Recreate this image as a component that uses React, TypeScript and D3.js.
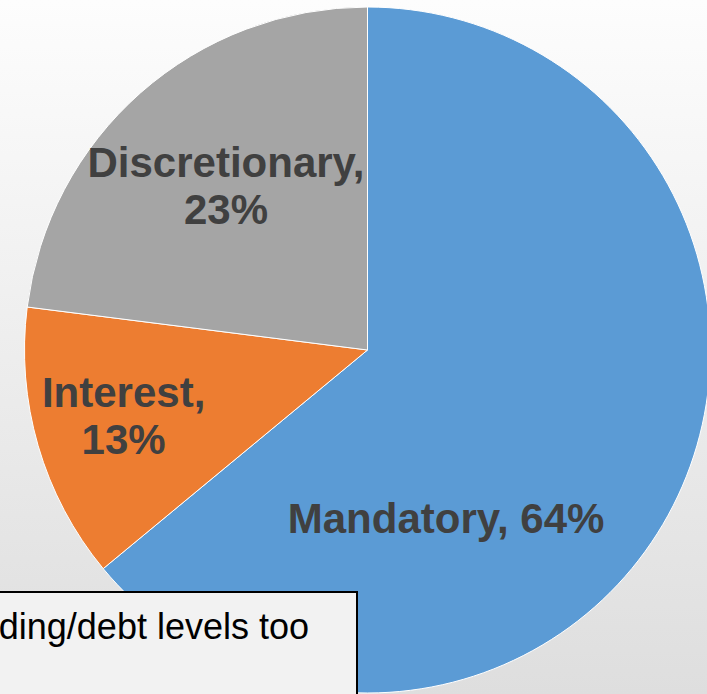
import React from "react";
import * as d3 from "d3";

const categories = ["Mandatory", "Interest", "Discretionary"];
const shares = [64, 13, 23];
const colors = ["#5B9BD5", "#ED7D31", "#A5A5A5"];
const noteText = "ding/debt levels too";

// label layout (offsets from pie centre as fraction of radius, line breaks)
const labelLayout = [
  { dx: 0.229, dy: 0.534, lines: (c: string, p: string) => [`${c}, ${p}`] },
  { dx: -0.711, dy: 0.165, lines: (c: string, p: string) => [`${c},`, p] },
  { dx: -0.4125, dy: -0.505, lines: (c: string, p: string) => [`${c},`, p] },
];

const W = 707;
const H = 694;

export default function App() {
  const cx = 367.5;
  const cy = 350;
  const r = 343;
  const data = categories.map((c, i) => ({ cat: c, value: shares[i], color: colors[i] }));
  const pie = d3.pie<any>().sort(null).value((d) => d.value);
  const arcs = pie(data);
  const arc = d3.arc<any>().innerRadius(0).outerRadius(r);
  const lineH = 47.6;

  return (
    <svg
      width={W}
      height={H}
      style={{ position: "fixed", left: 0, top: 0, display: "block" }}
      fontFamily="'Liberation Sans', Arial, sans-serif"
    >
      <defs>
        <linearGradient id="bg" x1="0" y1="0" x2="0" y2="1">
          <stop offset="0" stopColor="#fdfdfd" />
          <stop offset="1" stopColor="#dedede" />
        </linearGradient>
      </defs>
      <rect x={0} y={0} width={W} height={H} fill="url(#bg)" />
      <g transform={`translate(${cx},${cy})`}>
        {arcs.map((a, i) => (
          <path key={i} d={arc(a) as string} fill={a.data.color} stroke="#ffffff" strokeWidth={1} strokeLinejoin="round" />
        ))}
        {arcs.map((a, i) => {
          const L = labelLayout[i];
          const lines = L.lines(a.data.cat, `${a.data.value}%`);
          return (
            <text
              key={"l" + i}
              x={L.dx * r}
              y={L.dy * r}
              textAnchor="middle"
              fontSize={42}
              fontWeight="bold"
              fill="#404040"
            >
              {lines.map((ln, j) => (
                <tspan key={j} x={L.dx * r} dy={j === 0 ? 0 : lineH}>
                  {ln}
                </tspan>
              ))}
            </text>
          );
        })}
      </g>
      <rect x={-10} y={592} width={367} height={120} fill="#f2f2f2" stroke="#000" strokeWidth={2} />
      <text x={309} y={639} textAnchor="end" fontSize={36} fill="#000">
        {noteText}
      </text>
    </svg>
  );
}
